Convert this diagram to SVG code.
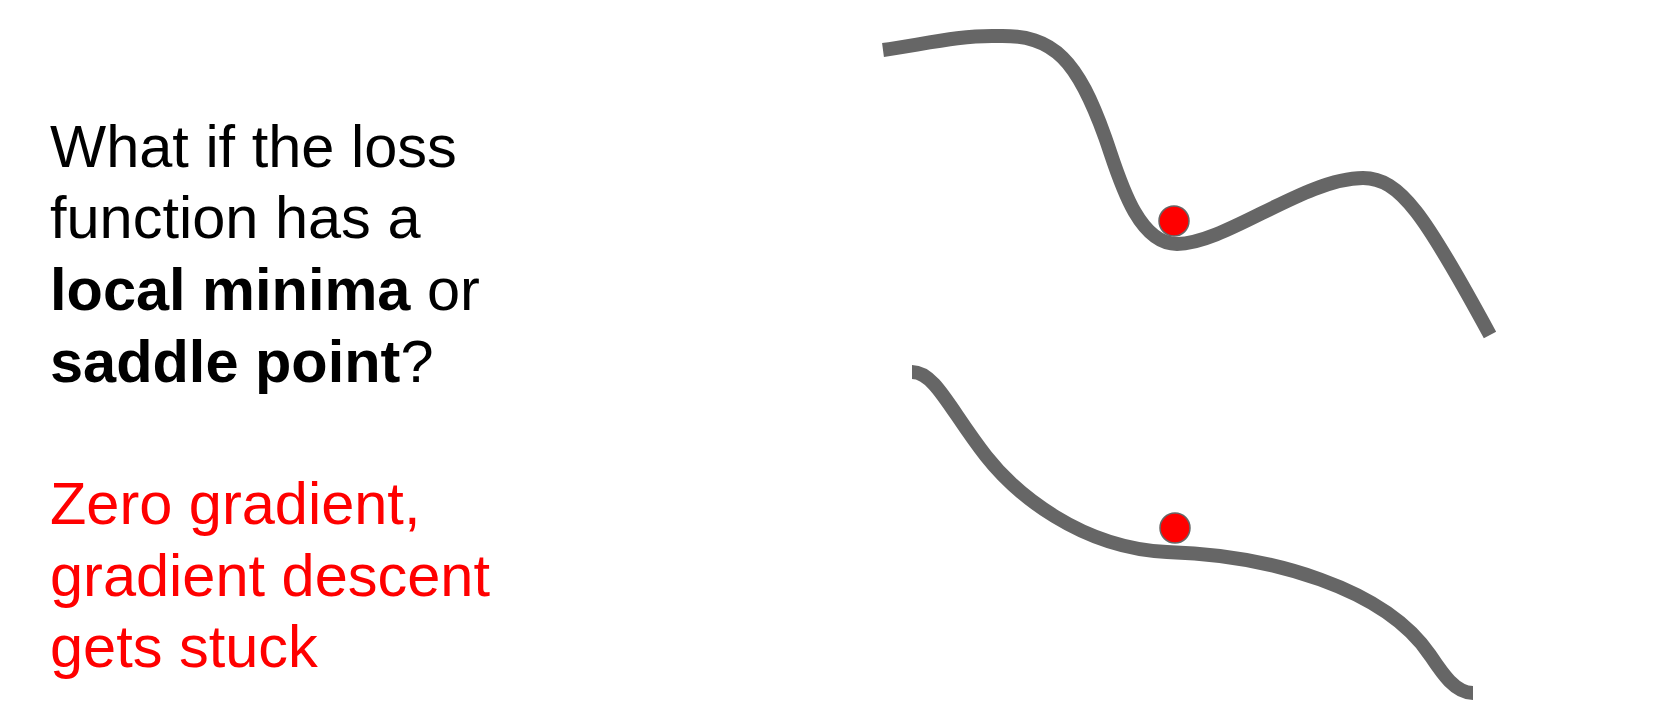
<svg xmlns="http://www.w3.org/2000/svg" width="1662" height="719" viewBox="0 0 1662 719">
<style>
.t{font-family:"Liberation Sans",Arial,sans-serif;font-size:59.5px;fill:#000}
.r{fill:#ff0000}
.b{font-weight:bold}
.curve{fill:none;stroke:#666666;stroke-width:14;stroke-linecap:butt;stroke-linejoin:round}
.ball{fill:#ff0000;stroke:#666666;stroke-width:1.5}
</style>
<rect width="1662" height="719" fill="#ffffff"/>
<g id="question">
<text class="t" x="50" y="167">What if the loss</text>
<text class="t" x="50" y="238">function has a</text>
<text class="t" x="50" y="310"><tspan class="b">local minima</tspan> or</text>
<text class="t" x="50" y="382"><tspan class="b">saddle point</tspan>?</text>
</g>
<g id="answer">
<text class="t r" x="50" y="524">Zero gradient,</text>
<text class="t r" x="50" y="596">gradient descent</text>
<text class="t r" x="50" y="667">gets stuck</text>
</g>
<g id="local-minimum">
<path class="curve" d="M883,50 C920,45 960,35 997,36 C1055,34 1078,62 1105,137 C1117,170 1135,244 1177,244 C1225,244 1305,178 1363,178 C1400,178 1425,215 1490,335"/>
<circle class="ball" cx="1174" cy="221" r="15"/>
</g>
<g id="saddle-point">
<path class="curve" d="M912,372 C935,372 950,410 986,456 C1015,493 1080,548 1167,552 C1270,555 1385,588 1430,655 C1442,673 1455,693 1473,693"/>
<circle class="ball" cx="1175" cy="528" r="15"/>
</g>
</svg>
